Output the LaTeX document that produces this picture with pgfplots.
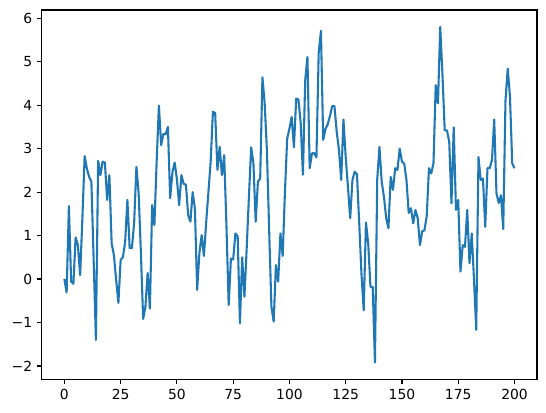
\documentclass[border=0pt]{standalone}
\usepackage{fontspec}
\setmainfont{DejaVu Sans}
\usepackage{pgfplots}
\pgfplotsset{compat=1.18}
\definecolor{mplblue}{HTML}{1F77B4}
\begin{document}
\begin{tikzpicture}
\begin{axis}[
  scale only axis, width=357pt, height=266.4pt,
  xmin=-10, xmax=210, ymin=-2.31, ymax=6.19,
  xtick={0,25,...,200}, ytick={-2,-1,...,6},
  xticklabels={0,25,50,75,100,125,150,175,200},
  yticklabels={−2,−1,0,1,2,3,4,5,6},
  tick align=outside, tick pos=left,
  major tick length=3.5pt,
  every tick/.style={black, line width=0.8pt},
  axis line style={line width=0.8pt},
  tick label style={font=\fontsize{10}{12}\selectfont},
]
\addplot[mplblue, line width=1.5pt, line join=round, mark=none] coordinates {
(0,0.00) (1,-0.31) (2,1.68) (3,-0.06) (4,-0.11) (5,0.96) (6,0.78) (7,0.09) (8,1.40) (9,2.83)
(10,2.54) (11,2.35) (12,2.24) (13,0.45) (14,-1.40) (15,2.72) (16,2.39) (17,2.70) (18,2.68) (19,1.82)
(20,2.39) (21,0.82) (22,0.55) (23,-0.02) (24,-0.55) (25,0.44) (26,0.50) (27,0.85) (28,1.82) (29,0.71)
(30,0.71) (31,1.30) (32,2.58) (33,1.97) (34,0.60) (35,-0.92) (36,-0.64) (37,0.14) (38,-0.68) (39,1.70)
(40,1.24) (41,2.70) (42,3.99) (43,3.08) (44,3.34) (45,3.33) (46,3.50) (47,1.86) (48,2.45) (49,2.68)
(50,2.30) (51,1.70) (52,2.39) (53,2.19) (54,2.17) (55,1.47) (56,1.32) (57,2.00) (58,1.62) (59,-0.25)
(60,0.60) (61,1.01) (62,0.53) (63,1.30) (64,2.00) (65,2.70) (66,3.85) (67,3.82) (68,2.51) (69,3.04)
(70,2.39) (71,2.85) (72,1.25) (73,-0.60) (74,0.47) (75,0.45) (76,1.05) (77,0.98) (78,-1.02) (79,0.50)
(80,-0.41) (81,0.70) (82,1.90) (83,3.03) (84,2.66) (85,1.32) (86,2.24) (87,2.31) (88,4.64) (89,4.04)
(90,2.95) (91,1.10) (92,-0.64) (93,-0.98) (94,0.32) (95,-0.06) (96,1.05) (97,0.53) (98,2.00) (99,3.23)
(100,3.46) (101,3.73) (102,3.03) (103,4.15) (104,4.13) (105,3.60) (106,2.40) (107,4.57) (108,5.11) (109,2.55)
(110,2.89) (111,2.90) (112,2.80) (113,5.20) (114,5.71) (115,3.20) (116,3.45) (117,3.56) (118,3.75) (119,3.98)
(120,3.98) (121,3.39) (122,2.97) (123,2.28) (124,3.67) (125,2.81) (126,2.12) (127,1.40) (128,2.28) (129,2.47)
(130,2.41) (131,1.29) (132,0.13) (133,-0.72) (134,1.30) (135,0.82) (136,-0.18) (137,-0.18) (138,-1.92) (139,2.28)
(140,3.04) (141,2.24) (142,1.89) (143,1.40) (144,1.17) (145,2.35) (146,2.05) (147,2.55) (148,2.51) (149,3.00)
(150,2.70) (151,2.66) (152,2.28) (153,1.52) (154,1.63) (155,1.28) (156,1.59) (157,1.40) (158,0.78) (159,1.10)
(160,1.12) (161,1.45) (162,2.55) (163,2.43) (164,2.66) (165,4.46) (166,4.04) (167,5.80) (168,4.70) (169,3.42)
(170,3.42) (171,3.16) (172,1.74) (173,3.49) (174,1.59) (175,1.82) (176,0.17) (177,0.78) (178,0.74) (179,1.59)
(180,0.36) (181,1.05) (182,0.00) (183,-1.17) (184,2.81) (185,2.28) (186,2.31) (187,1.20) (188,2.55) (189,2.55)
(190,2.74) (191,3.67) (192,1.97) (193,1.75) (194,1.93) (195,1.15) (196,4.11) (197,4.84) (198,4.19) (199,2.66)
(200,2.55)
};
\end{axis}
\path ([xshift=-30.2pt,yshift=-23.8pt]current axis.south west) rectangle ([xshift=6.5pt,yshift=7.2pt]current axis.north east);
\end{tikzpicture}
\end{document}
